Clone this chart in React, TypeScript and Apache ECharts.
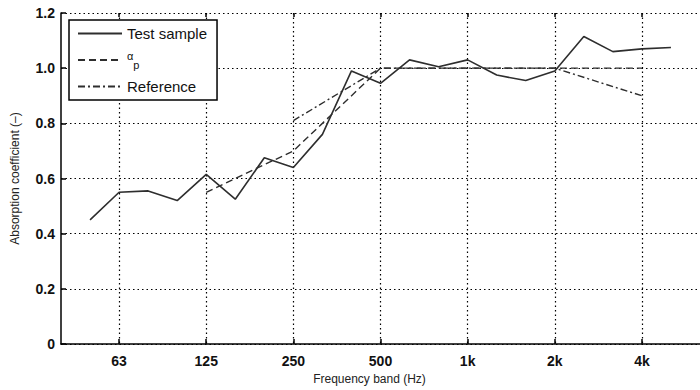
import React, { useEffect, useRef } from "react";
import * as echarts from "echarts";

// One-third-octave band centres shown on the x axis (40 Hz .. 6.3 kHz)
const bands = ["40", "50", "63", "80", "100", "125", "160", "200", "250", "315", "400", "500", "630", "800", "1k", "1.25k", "1.6k", "2k", "2.5k", "3.15k", "4k", "5k", "6.3k"];
// Octave bands that carry tick labels and grid lines
const octaveLabels = ["63", "125", "250", "500", "1k", "2k", "4k"];

// Test sample (one-third-octave)
const testSampleBands = ["50", "63", "80", "100", "125", "160", "200", "250", "315", "400", "500", "630", "800", "1k", "1.25k", "1.6k", "2k", "2.5k", "3.15k", "4k", "5k"];
const testSample = [0.45, 0.55, 0.555, 0.52, 0.615, 0.525, 0.675, 0.64, 0.76, 0.99, 0.945, 1.03, 1.005, 1.03, 0.975, 0.955, 0.99, 1.115, 1.06, 1.07, 1.075];

// alpha_p (octave)
const alphaPBands = ["125", "250", "500", "1k", "2k", "4k"];
const alphaP = [0.55, 0.7, 1.0, 1.0, 1.0, 1.0];

// Reference (octave)
const referenceBands = ["250", "500", "1k", "2k", "4k"];
const reference = [0.81, 1.0, 1.0, 1.0, 0.9];

const yTicks = { min: 0, max: 1.2, interval: 0.2 };

const FONT = "'Liberation Sans', Arial, Helvetica, sans-serif";

export default function App() {
  const ref = useRef<HTMLDivElement>(null);

  useEffect(() => {
    document.body.style.margin = "0";
    if (!ref.current) return;
    const chart = echarts.init(ref.current, null, { renderer: "svg" });
    const isOctave = (_i: number, v: string) => octaveLabels.indexOf(v) >= 0;
    const pairs = (b: string[], v: number[]) => b.map((name, i) => [name, v[i]]);
    const lineColor = "#2e2e2e";

    chart.setOption({
      animation: false,
      backgroundColor: "#fff",
      textStyle: { fontFamily: FONT },
      grid: { left: 61, top: 13, width: 650, height: 332 },
      legend: {
        show: true,
        orient: "vertical",
        left: 69,
        top: 20,
        padding: [6, 10, 6, 8],
        itemWidth: 44,
        itemHeight: 14,
        itemGap: 9,
        borderColor: "#000",
        borderWidth: 1.5,
        backgroundColor: "#fff",
        itemStyle: { opacity: 0 },
        data: ["Test sample", "alpha", "Reference"],
        formatter: (name: string) => (name === "alpha" ? "{a|α}{s|p}" : name),
        textStyle: {
          fontFamily: FONT,
          fontSize: 15,
          color: "#111",
          rich: {
            a: { fontFamily: FONT, fontSize: 11, color: "#111", padding: [0, 0, 9, 0] },
            s: { fontFamily: FONT, fontSize: 11, color: "#111", padding: [9, 0, 0, 0] },
          },
        },
      },
      xAxis: [
        {
          type: "category",
          data: bands,
          boundaryGap: false,
          axisLine: { show: true, lineStyle: { color: "#000", width: 1.5 } },
          axisTick: { show: true, inside: true, length: 5, interval: isOctave, lineStyle: { color: "#000", width: 1.5 } },
          axisLabel: { show: true, interval: isOctave, margin: 10, fontSize: 14, fontWeight: "bold", color: "#111", fontFamily: FONT },
          splitLine: { show: true, interval: isOctave, lineStyle: { color: "#000", width: 1.2, type: [1.5, 3] } },
          name: "Frequency band (Hz)",
          nameLocation: "middle",
          nameGap: 29,
          nameTextStyle: { fontSize: 12, color: "#222", fontFamily: FONT, padding: [0, 22, 0, 0] },
        },
        {
          type: "category",
          data: bands,
          boundaryGap: false,
          position: "top",
          axisLine: { show: false },
          axisTick: { show: true, inside: true, length: 4, interval: isOctave, lineStyle: { color: "#000", width: 1.5 } },
          axisLabel: { show: false },
          splitLine: { show: false },
        },
      ],
      yAxis: {
        type: "value",
        min: yTicks.min,
        max: yTicks.max,
        interval: yTicks.interval,
        axisLine: { show: true, lineStyle: { color: "#000", width: 1.5 } },
        axisTick: { show: true, inside: true, length: 5, lineStyle: { color: "#000", width: 1.5 } },
        axisLabel: {
          margin: 6,
          fontSize: 14,
          fontWeight: "bold",
          color: "#111",
          fontFamily: FONT,
          formatter: (v: number) => (v === 0 ? "0" : v.toFixed(1)),
        },
        splitLine: { show: true, lineStyle: { color: "#000", width: 1.2, type: [1.5, 3] } },
        name: "Absorption coefficient (–)",
        nameLocation: "middle",
        nameGap: 40,
        nameTextStyle: { fontSize: 12, color: "#222", fontFamily: FONT },
      },
      series: [
        {
          name: "Test sample",
          type: "line",
          data: pairs(testSampleBands, testSample),
          symbol: "none",
          lineStyle: { color: lineColor, width: 1.6, type: "solid" },
          itemStyle: { color: lineColor },
          z: 3,
        },
        {
          name: "alpha",
          type: "line",
          data: pairs(alphaPBands, alphaP),
          symbol: "none",
          lineStyle: { color: lineColor, width: 1.4, type: [7, 4] },
          itemStyle: { color: lineColor },
          z: 2,
        },
        {
          name: "Reference",
          type: "line",
          data: pairs(referenceBands, reference),
          symbol: "none",
          lineStyle: { color: lineColor, width: 1.4, type: [7, 3, 2, 3] },
          itemStyle: { color: lineColor },
          z: 2,
        },
      ],
    });
    return () => chart.dispose();
  }, []);

  return <div ref={ref} style={{ width: 700, height: 390 }} />;
}
